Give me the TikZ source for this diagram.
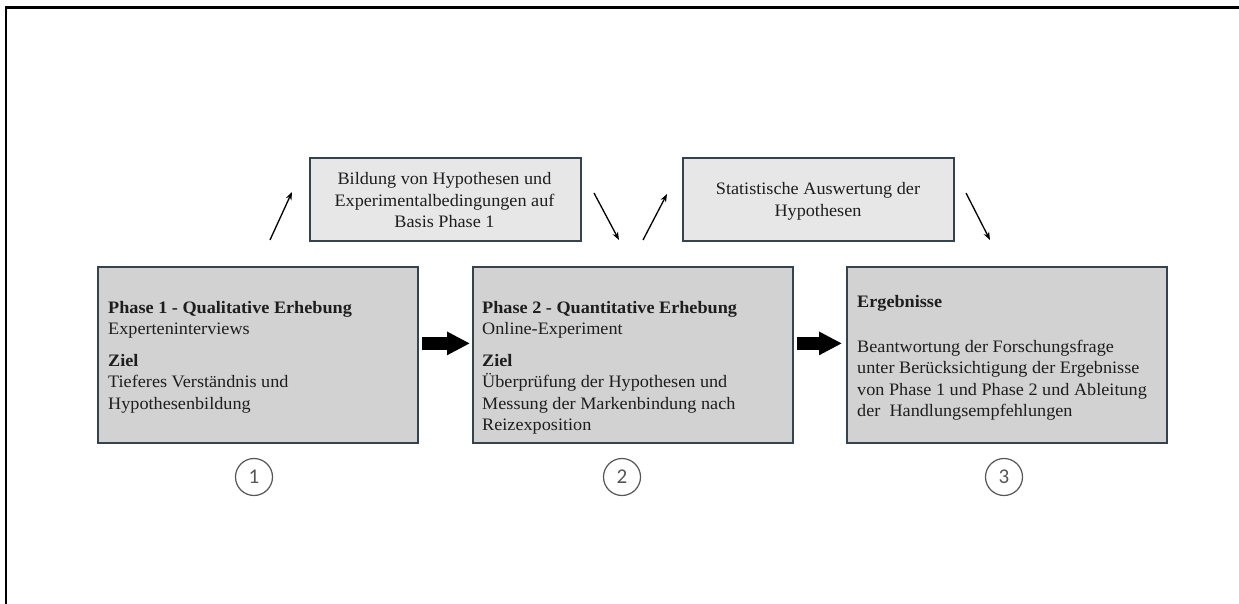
\documentclass[tikz,border=0pt]{standalone}
\usepackage{fontspec}
\setmainfont{Liberation Serif}[FakeStretch=1.04]
\newfontfamily\numfont{Carlito}
\usetikzlibrary{arrows.meta}

\definecolor{boxline}{HTML}{34434E}
\definecolor{mainfill}{HTML}{D2D2D2}
\definecolor{topfill}{HTML}{E7E7E7}
\definecolor{ink}{HTML}{1E1E1E}
\definecolor{ringgray}{HTML}{555555}

\begin{document}
\begin{tikzpicture}[x=1pt,y=-1pt,
  phasebox/.style={draw=boxline, line width=1.8pt, fill=mainfill,
    minimum width=320pt, minimum height=176pt, inner sep=0pt, anchor=north west},
  notebox/.style={draw=boxline, line width=1.8pt, fill=topfill,
    minimum width=271pt, minimum height=83pt, inner sep=0pt, anchor=north west},
  txt/.style={font=\fontsize{17.5}{21.5}\selectfont, text=ink, inner sep=0pt},
  ring/.style={circle, draw=ringgray, line width=1.2pt, minimum size=37pt,
    inner sep=0pt, font=\numfont\fontsize{21}{21}\selectfont, text=ringgray},
  thinarrow/.style={-{Stealth[length=8pt,width=6pt]}, line width=1.3pt},
  bigarrow/.style={-{Triangle[length=23pt,width=22pt]}, line width=12.5pt}]

% page area and frame lines
\useasboundingbox (0,0) rectangle (1239,604);
\draw[line width=2.5pt] (1239,7.5) -- (6,7.5) -- (6,604);

% main phase boxes
\node[phasebox] (b1) at (97,266) {};
\node[phasebox] (b2) at (472,266) {};
\node[phasebox] (b3) at (846,266) {};

% intermediate steps
\node[notebox] (t1) at (309,157) {};
\node[notebox] (t2) at (682,157) {};

% box texts
\node[txt, anchor=base west] (b1text) at (108,313) {\begin{tabular}[t]{@{}l@{}}
  \textbf{Phase 1 - Qualitative Erhebung}\\
  Experteninterviews\\[10pt]
  \textbf{Ziel}\\
  Tieferes Verständnis und\\
  Hypothesenbildung
\end{tabular}};

\node[txt, anchor=base west] (b2text) at (482,313) {\begin{tabular}[t]{@{}l@{}}
  \textbf{Phase 2 - Quantitative Erhebung}\\
  Online-Experiment\\[10pt]
  \textbf{Ziel}\\
  Überprüfung der Hypothesen und\\
  Messung der Markenbindung nach\\
  Reizexposition
\end{tabular}};

\node[txt, anchor=base west] (b3text) at (857,307) {\begin{tabular}[t]{@{}l@{}}
  \textbf{Ergebnisse}\\[23.5pt]
  Beantwortung der Forschungsfrage\\
  unter Berücksichtigung der Ergebnisse\\
  von Phase 1 und Phase 2 und Ableitung\\
  der\ \ Handlungsempfehlungen
\end{tabular}};

\node[txt, anchor=base] (t1text) at (444.5,185) {\begin{tabular}[t]{@{}c@{}}
  Bildung von Hypothesen und\\
  Experimentalbedingungen auf\\
  Basis Phase 1
\end{tabular}};

\node[txt, anchor=base] (t2text) at (818,195) {\begin{tabular}[t]{@{}c@{}}
  Statistische Auswertung der\\
  Hypothesen
\end{tabular}};

% numbered markers
\node[ring] (n1) at (254,477) {1};
\node[ring] (n2) at (622,477) {2};
\node[ring] (n3) at (1004,477) {3};

% thin arrows into and out of the intermediate steps
\coordinate (a1s) at (270,240);
\coordinate (a1e) at (292,192);
\coordinate (a2s) at (594,193);
\coordinate (a2e) at (619,240);
\coordinate (a3s) at (643,240);
\coordinate (a3e) at (667,194);
\coordinate (a4s) at (966,193);
\coordinate (a4e) at (990,240);
\draw[thinarrow] (a1s) -- (a1e);
\draw[thinarrow] (a2s) -- (a2e);
\draw[thinarrow] (a3s) -- (a3e);
\draw[thinarrow] (a4s) -- (a4e);

% block arrows between phases
\draw[bigarrow] ([xshift=3pt,yshift=11.5pt]b1.east) -- ([xshift=-2pt,yshift=11.5pt]b2.west);
\draw[bigarrow] ([xshift=3pt,yshift=11.5pt]b2.east) -- ([xshift=-4pt,yshift=11.5pt]b3.west);
\end{tikzpicture}
\end{document}
